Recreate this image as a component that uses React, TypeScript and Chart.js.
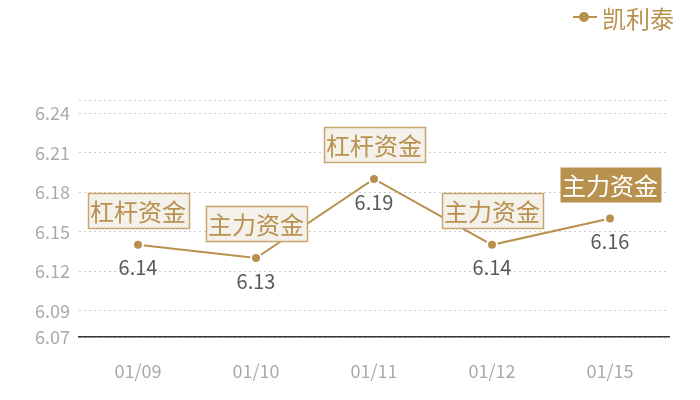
import React, { useEffect, useRef } from 'react';
import { Chart, registerables } from 'chart.js';

Chart.register(...registerables);

const categories = ['01/09', '01/10', '01/11', '01/12', '01/15'];
const prices = [6.14, 6.13, 6.19, 6.14, 6.16];
const tags = ['杠杆资金', '主力资金', '杠杆资金', '主力资金', '主力资金'];
const highlighted = [false, false, false, false, true];
const yTickValues = [6.07, 6.09, 6.12, 6.15, 6.18, 6.21, 6.24, 6.25];
const yHiddenLabels = [6.25];
const seriesName = '凯利泰';

const GOLD = '#b8914f';
const BOX_BG = '#f4f0ea';
const BOX_BORDER = '#c9a56f';
const FONT = '"Noto Sans CJK SC", "Noto Sans", sans-serif';

const overlayPlugin = {
  id: 'overlay',
  afterDatasetsDraw(chart: any) {
    const ctx = chart.ctx;
    const meta = chart.getDatasetMeta(0);
    ctx.save();
    meta.data.forEach((pt: any, i: number) => {
      const x = pt.x;
      const y = pt.y;
      // value label
      ctx.font = `20px ${FONT}`;
      ctx.fillStyle = '#5a5a5a';
      ctx.textAlign = 'center';
      ctx.textBaseline = 'middle';
      ctx.fillText(prices[i].toFixed(2), x, y + 23);
      // tag box
      ctx.font = `24px ${FONT}`;
      const w = ctx.measureText(tags[i]).width + 5;
      const h = 35;
      const bottom = y - 17;
      const left = Math.round(x - w / 2) + 0.5;
      const top = Math.round(bottom - h) + 0.5;
      if (highlighted[i]) {
        ctx.fillStyle = GOLD;
        ctx.fillRect(left, top, w, h);
        ctx.fillStyle = '#ffffff';
      } else {
        ctx.fillStyle = BOX_BG;
        ctx.fillRect(left, top, w, h);
        ctx.strokeStyle = BOX_BORDER;
        ctx.lineWidth = 1.5;
        ctx.strokeRect(left, top, w, h);
        ctx.fillStyle = GOLD;
      }
      ctx.textAlign = 'center';
      ctx.textBaseline = 'middle';
      ctx.fillText(tags[i], x, top + h / 2 + 1);
    });
    // legend
    const ly = 17;
    ctx.strokeStyle = GOLD;
    ctx.lineWidth = 2;
    ctx.beginPath();
    ctx.moveTo(573, ly);
    ctx.lineTo(597, ly);
    ctx.stroke();
    ctx.fillStyle = GOLD;
    ctx.beginPath();
    ctx.arc(584, ly, 5, 0, Math.PI * 2);
    ctx.fill();
    ctx.font = `24px ${FONT}`;
    ctx.textAlign = 'left';
    ctx.textBaseline = 'middle';
    ctx.fillText(seriesName, 602, ly + 2);
    ctx.restore();
  },
};

export default function App() {
  const ref = useRef<HTMLCanvasElement | null>(null);

  useEffect(() => {
    if (!ref.current) return;
    const chart = new Chart(ref.current, {
      type: 'line',
      data: {
        labels: categories,
        datasets: [
          {
            label: seriesName,
            data: prices,
            borderColor: GOLD,
            borderWidth: 2,
            backgroundColor: GOLD,
            pointBackgroundColor: GOLD,
            pointBorderColor: '#ffffff',
            pointBorderWidth: 2,
            pointRadius: 5,
            tension: 0,
            fill: false,
          },
        ],
      },
      options: {
        responsive: false,
        animation: false,
        devicePixelRatio: 1,
        layout: { padding: { top: 100, right: 31, left: 0, bottom: 0 } },
        plugins: {
          legend: { display: false },
          tooltip: { enabled: false },
        },
        scales: {
          x: {
            offset: true,
            grid: { display: false, drawTicks: false },
            border: { display: true, color: '#333333', width: 1.5 },
            ticks: {
              color: '#aaaaaa',
              font: { size: 18, family: FONT },
              padding: 23,
            },
            afterFit(scale: any) {
              scale.height = 63;
            },
          },
          y: {
            min: 6.07,
            max: 6.25,
            afterBuildTicks(scale: any) {
              scale.ticks = yTickValues.map((v) => ({ value: v }));
            },
            afterFit(scale: any) {
              scale.width = 79;
            },
            grid: {
              color: '#cccccc',
              lineWidth: 1,
              drawTicks: false,
            },
            border: { display: false, dash: [2, 3] },
            ticks: {
              color: '#aaaaaa',
              font: { size: 18, family: FONT },
              padding: 9,
              callback: (v: any) =>
                yHiddenLabels.includes(Number(v)) ? '' : Number(v).toFixed(2),
            },
          },
        },
      },
      plugins: [overlayPlugin],
    } as any);
    return () => chart.destroy();
  }, []);

  return (
    <div style={{ position: 'fixed', left: 0, top: 0, width: 700, height: 400, background: '#fff' }}>
      <canvas ref={ref} width={700} height={400} style={{ width: 700, height: 400 }} />
    </div>
  );
}
